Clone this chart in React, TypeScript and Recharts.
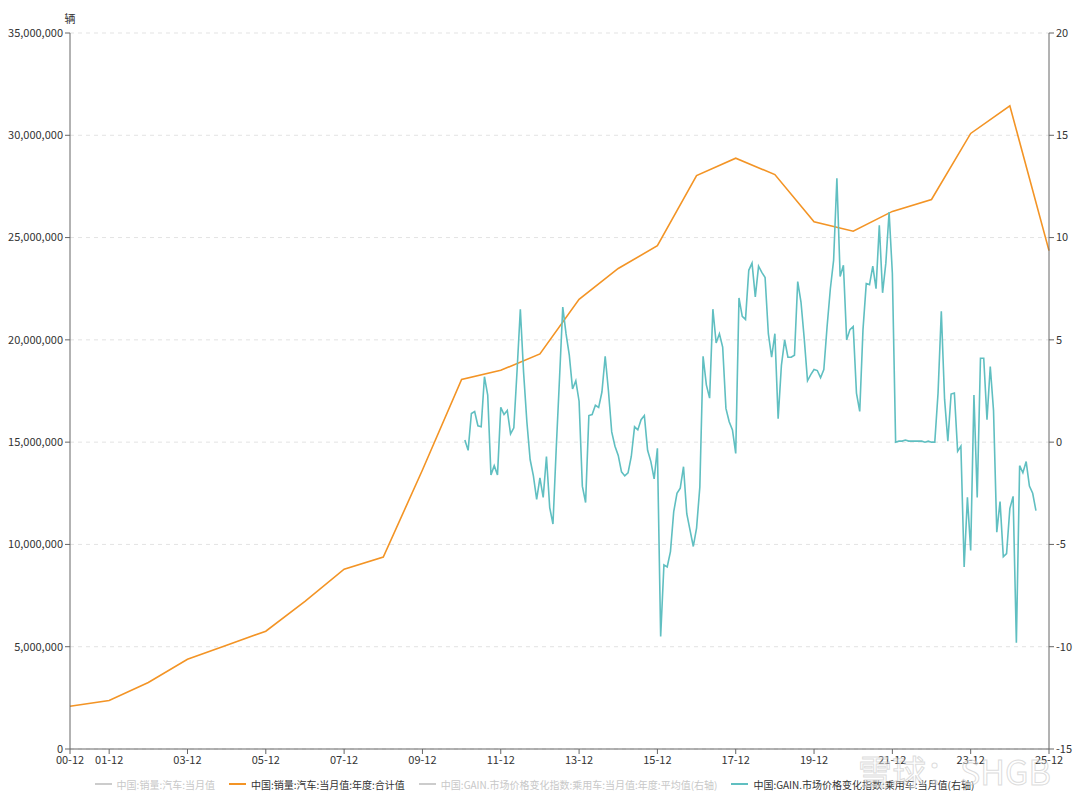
import { CartesianGrid, Legend, Line, LineChart, XAxis, YAxis } from "recharts";

// annual auto sales, 2000..2025 (year-to-date total, vehicles)
const salesYears = ["00", "01", "02", "03", "04", "05", "06", "07", "08", "09", "10", "11", "12",
  "13", "14", "15", "16", "17", "18", "19", "20", "21", "22", "23", "24", "25"];
const salesAnnual = [
  2090000, 2370000, 3250000, 4390000, 5070000, 5760000, 7220000, 8790000, 9380000, 13640000,
  18060000, 18510000, 19310000, 21980000, 23490000, 24600000, 28030000, 28880000, 28080000,
  25770000, 25310000, 26280000, 26860000, 30090000, 31440000, 24360000
];

// GAIN passenger car market price change index, monthly from 2011-01
const gainStart = { year: 2011, month: 1 };
const gainMonthly = [
  0.1, -0.4, 1.4, 1.5, 0.8, 0.75, 3.2, 2.3, -1.6, -1.15, -1.6, 1.7,
  1.35, 1.55, 0.4, 0.7, 3.5, 6.5, 3.4, 1.0, -0.85, -1.65, -2.8, -1.75,
  -2.7, -0.7, -3.2, -4.0, -0.3, 3.1, 6.6, 5.3, 4.25, 2.6, 3.0, 2.0,
  -2.15, -2.95, 1.3, 1.35, 1.8, 1.7, 2.45, 4.2, 2.5, 0.5, -0.2, -0.65,
  -1.45, -1.65, -1.5, -0.7, 0.75, 0.6, 1.1, 1.3, -0.4, -0.95, -1.8, -0.3,
  -9.5, -6.0, -6.1, -5.35, -3.4, -2.5, -2.25, -1.2, -3.5, -4.3, -5.1, -4.2,
  -2.2, 4.2, 2.8, 2.15, 6.5, 4.85, 5.3, 4.65, 1.65, 1.0, 0.6, -0.55,
  7.05, 6.15, 6.0, 8.4, 8.75, 7.1, 8.6, 8.3, 8.05, 5.3, 4.15, 5.3,
  1.15, 3.75, 5.0, 4.15, 4.15, 4.25, 7.85, 6.85, 5.05, 3.0, 3.3, 3.55,
  3.5, 3.15, 3.55, 5.65, 7.5, 8.9, 12.9, 8.1, 8.65, 5.0, 5.5, 5.65,
  2.4, 1.5, 5.5, 7.75, 7.7, 8.6, 7.5, 10.6, 7.3, 8.75, 11.25, 8.25,
  0.0, 0.05, 0.05, 0.1, 0.05, 0.05, 0.05, 0.05, 0.05, 0.0, 0.05, 0.0,
  0.0, 2.4, 6.4, 2.1, 0.05, 2.35, 2.4, -0.45, -0.2, -6.1, -2.7, -5.3,
  2.3, -2.7, 4.1, 4.1, 1.1, 3.7, 1.55, -4.4, -2.9, -5.6, -5.45, -3.25,
  -2.65, -9.8, -1.15, -1.5, -0.95, -2.15, -2.5, -3.35
];

const xTicks = ["00-12", "01-12", "03-12", "05-12", "07-12", "09-12", "11-12", "13-12",
  "15-12", "17-12", "19-12", "21-12", "23-12", "25-12"];
const leftTicks = [0, 5000000, 10000000, 15000000, 20000000, 25000000, 30000000, 35000000];
const rightTicks = [-15, -10, -5, 0, 5, 10, 15, 20];

const legendItems = [
  { name: "中国:销量:汽车:当月值", color: "#cccccc", active: false },
  { name: "中国:销量:汽车:当月值:年度:合计值", color: "#f39425", active: true },
  { name: "中国:GAIN.市场价格变化指数:乘用车:当月值:年度:平均值(右轴)", color: "#cccccc", active: false },
  { name: "中国:GAIN.市场价格变化指数:乘用车:当月值(右轴)", color: "#60bfc1", active: true }
];

const FONT = '"Noto Sans CJK SC", "Noto Sans", sans-serif';

const pad = (n: number) => String(n).padStart(2, "0");

// one row per month, 2000-12 .. 2025-12
const rows: { date: string; sales: number | null; gain: number | null }[] = [];
for (let y = 2000; y <= 2025; y++) {
  for (let mo = 1; mo <= 12; mo++) {
    if (y === 2000 && mo < 12) continue;
    const gi = (y - gainStart.year) * 12 + (mo - gainStart.month);
    rows.push({
      date: `${pad(y % 100)}-${pad(mo)}`,
      sales: mo === 12 ? salesAnnual[salesYears.indexOf(pad(y % 100))] : null,
      gain: gi >= 0 && gi < gainMonthly.length ? gainMonthly[gi] : null
    });
  }
}

const tickStyle = { fontSize: 11, fill: "#333", fontFamily: FONT };

function LegendRow() {
  return (
    <div
      style={{
        display: "flex",
        justifyContent: "center",
        alignItems: "center",
        height: 26,
        paddingRight: 19,
        fontFamily: FONT,
        fontSize: 10
      }}
    >
      {legendItems.map((it) => (
        <div key={it.name} style={{ display: "flex", alignItems: "center", margin: "0 7px" }}>
          <span style={{ display: "inline-block", width: 17, height: 2, background: it.color, marginRight: 5 }} />
          <span style={{ color: it.active ? "#333" : "#c8c8c8" }}>{it.name}</span>
        </div>
      ))}
    </div>
  );
}

export default function App() {
  return (
    <div style={{ position: "absolute", left: 0, top: 0, width: 1080, height: 797, background: "#fff" }}>
      <LineChart width={1080} height={797} data={rows} margin={{ top: 33, right: 0, bottom: 0, left: 8 }}>
        <CartesianGrid vertical={false} stroke="#e3e3e3" strokeDasharray="4 4" yAxisId="left" />
        <XAxis
          dataKey="date"
          ticks={xTicks}
          interval={0}
          height={22}
          tick={tickStyle}
          tickSize={5}
          tickMargin={2}
          stroke="#666"
        />
        <YAxis
          yAxisId="left"
          width={62}
          domain={[0, 35000000]}
          ticks={leftTicks}
          tick={tickStyle}
          tickSize={5}
          tickMargin={2}
          stroke="#666"
          tickFormatter={(v: number) => v.toLocaleString("en-US")}
          label={{ value: "辆", position: "top", offset: 10, dx: 31, style: { fontSize: 11, fill: "#333", fontFamily: FONT } }}
        />
        <YAxis
          yAxisId="right"
          orientation="right"
          width={31}
          domain={[-15, 20]}
          ticks={rightTicks}
          tick={tickStyle}
          tickSize={5}
          tickMargin={2}
          stroke="#666"
        />
        <Legend verticalAlign="bottom" height={26} content={() => <LegendRow />} />
        <Line
          yAxisId="left"
          dataKey="sales"
          stroke="#f39425"
          strokeWidth={1.6}
          dot={false}
          connectNulls
          isAnimationActive={false}
        />
        <Line
          yAxisId="right"
          dataKey="gain"
          stroke="#60bfc1"
          strokeWidth={1.6}
          dot={false}
          isAnimationActive={false}
        />
      </LineChart>
      <div
        style={{
          position: "absolute",
          left: 858,
          top: 746,
          fontFamily: FONT,
          fontSize: 34,
          color: "rgba(255,255,255,0.35)",
          WebkitTextStroke: "1px rgba(190,190,190,0.55)",
          pointerEvents: "none",
          whiteSpace: "nowrap"
        }}
      >
        雪球：SHGB
      </div>
    </div>
  );
}
